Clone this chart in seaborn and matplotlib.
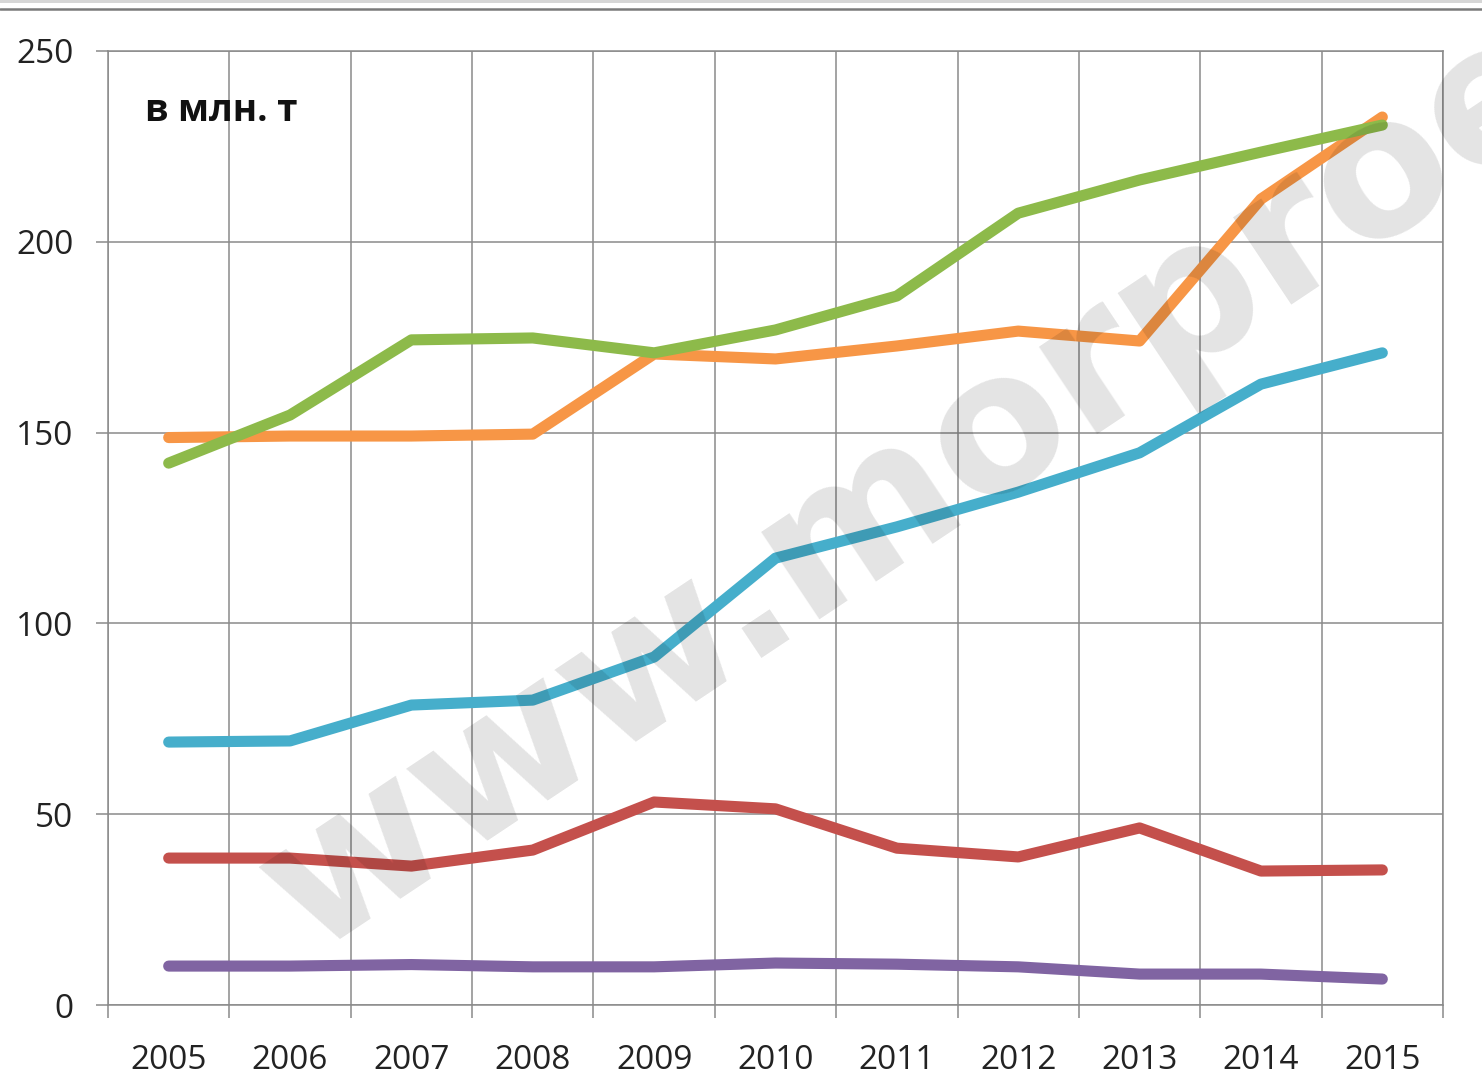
import matplotlib
matplotlib.use("Agg")
import matplotlib.pyplot as plt
from matplotlib.lines import Line2D
from matplotlib.patches import Rectangle
from matplotlib.ticker import FixedLocator
import seaborn as sns
import pandas as pd

years = [2005, 2006, 2007, 2008, 2009, 2010, 2011, 2012, 2013, 2014, 2015]
purple_vals = [10.2, 10.2, 10.6, 10.0, 10.0, 11.0, 10.7, 10.0, 8.1, 8.1, 6.8]
red_vals = [38.5, 38.5, 36.4, 40.6, 53.2, 51.4, 41.1, 38.8, 46.4, 35.1, 35.4]
blue_vals = [68.9, 69.2, 78.6, 79.9, 91.2, 117.1, 125.3, 134.4, 144.7, 162.7, 170.9]
orange_vals = [148.7, 149.1, 149.1, 149.6, 170.6, 169.3, 172.7, 176.6, 174.0, 211.2, 232.7]
green_vals = [142.0, 154.6, 174.3, 174.8, 170.9, 176.9, 185.8, 207.5, 216.2, 223.5, 230.6]

series_names = ["purple", "red", "blue", "orange", "green"]
series_values = [purple_vals, red_vals, blue_vals, orange_vals, green_vals]
series_colors = ["#8064A2", "#C4504C", "#46AECB", "#F79646", "#8DBA4A"]

y_ticks = [0, 50, 100, 150, 200, 250]
unit_label = "в млн. т"
watermark = "www.morproekt.ru"

rows = []
for name, vals in zip(series_names, series_values):
    for yr, v in zip(years, vals):
        rows.append({"year": yr, "value": v, "series": name})
df = pd.DataFrame(rows)

sns.set_style("white")
plt.rcParams["font.family"] = ["Open Sans", "DejaVu Sans"]

fig = plt.figure(figsize=(14.82, 10.79), dpi=100)
ax = fig.add_axes([108 / 1482, 1 - 1005 / 1079, (1443 - 108) / 1482, (1005 - 51) / 1079])

sns.lineplot(data=df, x="year", y="value", hue="series", hue_order=series_names,
             palette=dict(zip(series_names, series_colors)), linewidth=8,
             solid_capstyle="round", solid_joinstyle="round", sort=False,
             legend=False, ax=ax, zorder=3)

grid_color = "#8a8a8a"
ax.set_xlim(years[0] - 0.5, years[-1] + 0.5)
ax.set_ylim(0, 250)
ax.set_xticks(years)
ax.set_xticklabels([str(y) for y in years])
ax.xaxis.set_minor_locator(FixedLocator([y - 0.5 for y in years] + [years[-1] + 0.5]))
ax.set_yticks(y_ticks)
ax.set_yticklabels([str(v) for v in y_ticks])
ax.grid(False)
ax.grid(True, which="minor", axis="x", color=grid_color, linewidth=1.1, zorder=0)
ax.grid(True, which="major", axis="y", color=grid_color, linewidth=1.1, zorder=0)
ax.set_axisbelow(True)
for sp in ax.spines.values():
    sp.set_color(grid_color)
    sp.set_linewidth(1.1)

ax.tick_params(axis="x", which="major", length=0, pad=28, labelsize=24, labelcolor="#222222")
ax.tick_params(axis="x", which="minor", length=9, width=1.1, color=grid_color, bottom=True)
ax.tick_params(axis="y", which="major", length=9, width=1.1, color=grid_color, left=True,
               pad=16, labelsize=24, labelcolor="#222222")
ax.set_xlabel("")
ax.set_ylabel("")

ax.text(0.0277, 0.937, unit_label, transform=ax.transAxes, ha="left", va="center",
        fontsize=26.5, fontweight="bold", color="#111111", zorder=5)

# watermark
fig.text(310 / 1482, 1 - 955 / 1079, watermark, rotation=33.7, rotation_mode="anchor",
         ha="left", va="baseline", fontsize=139, fontweight="bold",
         family=["DejaVu Sans"], color="black", alpha=0.11, zorder=10)

# page border at top
fig.add_artist(Rectangle((0, 1 - 3 / 1079), 1, 3 / 1079, transform=fig.transFigure,
                         facecolor="#d6d6d6", edgecolor="none"))
fig.add_artist(Line2D([0, 1], [1 - 9 / 1079, 1 - 9 / 1079], transform=fig.transFigure,
                      color="#7a7a7a", linewidth=1.8))

fig.savefig("out.png", dpi=100)
